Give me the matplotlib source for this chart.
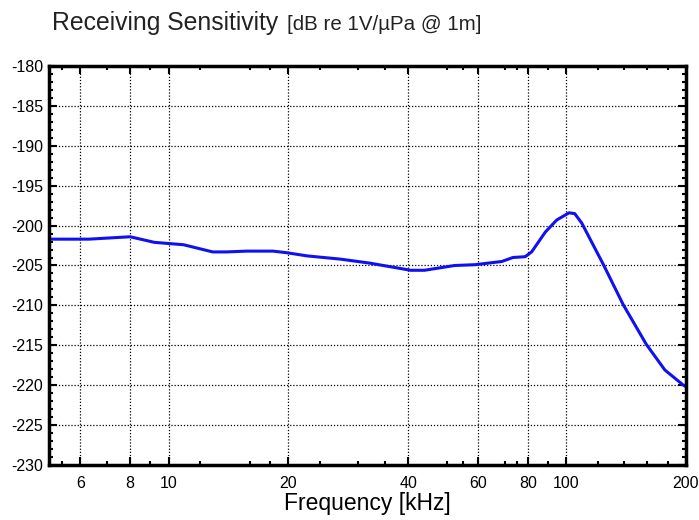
import numpy as np
import matplotlib.pyplot as plt
from matplotlib.ticker import FixedLocator, MultipleLocator, NullFormatter

plt.rcParams['font.family'] = ['Liberation Sans', 'DejaVu Sans']
plt.rcParams['axes.unicode_minus'] = False

# curva de sensibilidade
freq_khz = [5.0, 6.3, 8.0, 9.2, 10.9, 12.9, 14.0, 15.7, 18.3, 19.8, 22.3, 27.0,
            32.0, 40.6, 44.0, 52.4, 59.0, 68.8, 73.4, 78.8, 81.8, 88.6, 94.6,
            101.6, 105.0, 109.4, 124.0, 139.0, 159.0, 177.0, 197.0, 200.0]
sens_db = [-201.7, -201.7, -201.4, -202.1, -202.4, -203.3, -203.3, -203.2, -203.2,
           -203.4, -203.8, -204.2, -204.7, -205.6, -205.6, -205.0, -204.9, -204.5,
           -204.0, -203.9, -203.3, -200.8, -199.3, -198.4, -198.5, -199.7, -204.9,
           -209.9, -214.9, -218.1, -220.0, -220.2]

xticks = [6, 8, 10, 20, 40, 60, 80, 100, 200]
xminor = [5.4, 7, 9, 12, 16, 18, 24, 30, 35, 50, 55, 70, 75, 90, 120, 140, 160, 180]

fig = plt.figure(figsize=(6.99, 5.2), dpi=100)
ax = fig.add_axes([0.0701, 0.1058, 0.9113, 0.7673])

ax.plot(freq_khz, sens_db, color='#1010f0', lw=2.2)

ax.set_xscale('log')
ax.set_xlim(5, 200)
ax.set_ylim(-230, -180)
ax.xaxis.set_major_locator(FixedLocator(xticks))
ax.xaxis.set_minor_locator(FixedLocator(xminor))
ax.xaxis.set_minor_formatter(NullFormatter())
ax.set_xticklabels([str(t) for t in xticks])
ax.yaxis.set_major_locator(MultipleLocator(5))
ax.yaxis.set_minor_locator(MultipleLocator(1))

ax.grid(True, which='major', color='black', linestyle=(0, (1, 1.5)), lw=0.9)
ax.tick_params(which='both', direction='in', top=True, right=True, width=1.5,
               labelsize=11.5, colors='black')
ax.tick_params(which='major', length=6)
ax.tick_params(which='minor', length=3)
ax.tick_params(axis='x', pad=8)
ax.tick_params(axis='y', pad=4)
for s in ax.spines.values():
    s.set_linewidth(2.5)

ax.set_xlabel('Frequency [kHz]', fontsize=16.5, labelpad=1)

fig.text(0.074, 0.955, 'Receiving Sensitivity', fontsize=17.8, color='#222222', va='center')
fig.text(0.41, 0.952, '[dB re 1V/\u00b5Pa @ 1m]', fontsize=14.8, color='#222222', va='center')

fig.savefig('out.png', dpi=100)
